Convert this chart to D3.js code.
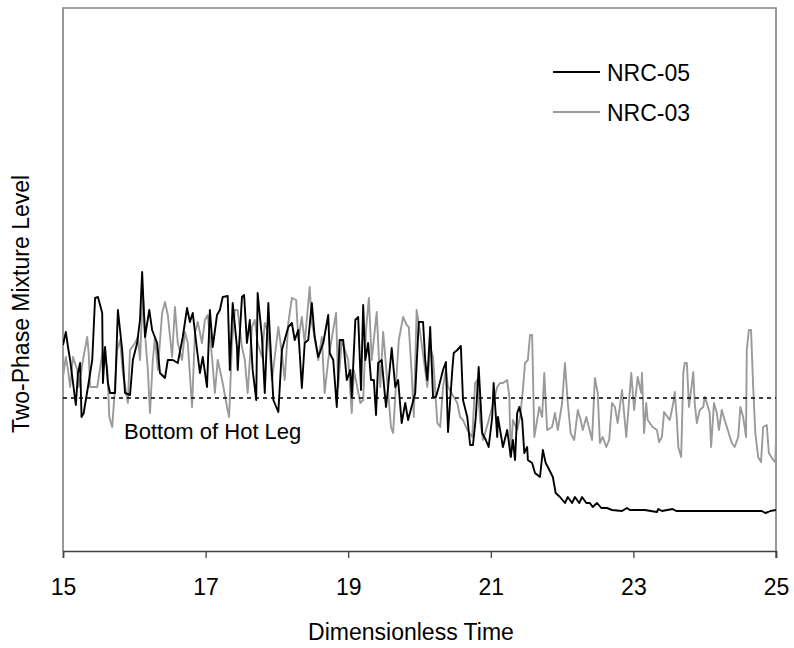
<!DOCTYPE html>
<html>
<head>
<meta charset="utf-8">
<script src="https://cdn.jsdelivr.net/npm/d3@7"></script>
<style>
  html, body { margin: 0; padding: 0; background: #fff; }
  svg { display: block; }
  text { font-family: "Liberation Sans", Arial, sans-serif; fill: #000; }
</style>
</head>
<body>
<svg id="chart" width="794" height="648"></svg>
<script>
// ---------------- data ----------------
const seriesNames = ["NRC-05", "NRC-03"];
const xTickValues = [15, 17, 19, 21, 23, 25];
const hotLegLevel = 30.6;
const hotLegLabel = "Bottom of Hot Leg";

const timeNRC05 = [15.00,15.04,15.07,15.10,15.18,15.21,15.24,15.26,15.29,15.35,15.41,15.45,15.49,15.55,15.56,15.59,15.63,15.66,15.73,15.77,
15.83,15.87,15.94,15.98,16.04,16.08,16.11,16.15,16.21,16.25,16.32,16.36,16.43,16.47,16.54,16.61,16.68,16.74,16.78,16.82,
16.88,16.92,16.96,17.02,17.06,17.10,17.16,17.20,17.24,17.31,17.34,17.38,17.44,17.45,17.51,17.54,17.58,17.62,17.66,17.71,
17.73,17.79,17.83,17.88,17.90,17.95,18.02,18.07,18.16,18.21,18.25,18.30,18.35,18.39,18.44,18.49,18.53,18.58,18.65,18.72,
18.74,18.79,18.84,18.88,18.93,18.98,19.03,19.05,19.10,19.14,19.18,19.21,19.24,19.28,19.32,19.36,19.39,19.42,19.47,19.53,
19.56,19.61,19.66,19.70,19.75,19.80,19.84,19.94,19.99,20.05,20.08,20.11,20.15,20.19,20.23,20.27,20.33,20.37,20.40,20.46,
20.48,20.53,20.58,20.61,20.67,20.71,20.75,20.79,20.83,20.88,20.93,20.97,21.02,21.04,21.09,21.10,21.17,21.23,21.28,21.31,
21.34,21.37,21.40,21.44,21.47,21.51,21.52,21.58,21.62,21.69,21.73,21.77,21.80,21.87,21.91,21.97,22.04,22.08,22.14,22.18,
22.24,22.28,22.34,22.39,22.43,22.49,22.55,22.63,22.70,22.84,22.91,22.95,23.16,23.33,23.35,23.40,23.55,23.60,24.80,24.85,
24.89,24.92,25.00];
const levelNRC05 = [41.2,43.8,40.8,38.2,29.2,35.6,37.6,26.8,27.6,32.8,38.2,50.6,50.8,47.6,33.6,40.8,33.6,31.6,31.6,48.2,
40.2,31.6,31.2,38.2,41.6,46.2,55.8,42.8,48.2,44.2,41.6,35.6,34.6,38.2,38.2,37.6,42.8,48.6,45.8,47.6,
40.2,35.6,38.8,32.8,48.2,40.8,47.2,48.2,50.8,51.0,36.2,49.6,40.8,36.2,50.8,51.2,41.6,46.2,36.2,30.2,
51.6,42.8,31.6,49.6,43.6,30.2,27.8,40.2,44.8,45.6,42.2,44.2,32.6,41.6,42.2,49.6,42.8,38.8,41.6,47.2,
39.6,38.2,28.8,42.2,42.2,34.2,36.2,30.8,46.2,46.8,32.2,49.2,38.2,41.6,34.2,34.2,27.2,37.6,38.2,28.8,
32.8,40.6,32.8,34.2,25.6,29.6,26.2,31.6,45.8,45.8,38.2,34.2,44.8,30.8,30.8,32.8,36.2,37.8,23.8,36.2,
39.6,40.2,41.0,30.2,26.8,21.2,21.2,26.8,36.8,23.6,22.2,20.8,26.8,33.6,22.8,26.8,20.8,24.2,18.8,22.2,
18.2,27.6,28.8,26.2,19.6,20.8,18.2,17.6,15.6,14.8,20.2,17.6,16.8,14.8,11.6,10.8,9.6,10.8,9.6,10.8,
9.6,10.8,9.6,9.6,8.8,9.6,8.6,8.6,8.2,8.0,8.6,8.2,8.2,7.8,8.4,8.0,8.4,8.0,8.0,7.6,
7.8,8.0,8.2];

const timeNRC03 = [15.00,15.04,15.07,15.10,15.14,15.20,15.22,15.28,15.34,15.36,15.38,15.48,15.56,15.62,15.65,15.69,15.72,15.76,15.80,15.84,
15.91,15.94,16.01,16.05,16.08,16.12,16.16,16.19,16.22,16.26,16.29,16.33,16.39,16.43,16.47,16.53,16.57,16.61,16.67,16.71,
16.75,16.81,16.85,16.89,16.95,16.99,17.03,17.09,17.13,17.17,17.24,17.30,17.33,17.37,17.41,17.45,17.51,17.55,17.59,17.65,
17.69,17.73,17.79,17.83,17.88,17.93,17.97,18.02,18.07,18.11,18.16,18.21,18.27,18.30,18.35,18.39,18.46,18.49,18.53,18.58,
18.63,18.67,18.72,18.77,18.83,18.86,18.91,19.00,19.05,19.08,19.17,19.21,19.25,19.29,19.33,19.40,19.45,19.49,19.52,19.56,
19.60,19.63,19.68,19.71,19.77,19.82,19.85,19.89,19.92,19.96,20.01,20.11,20.15,20.19,20.25,20.29,20.33,20.37,20.40,20.53,
20.57,20.61,20.67,20.74,20.78,20.81,20.85,20.89,20.92,20.96,21.02,21.09,21.13,21.17,21.23,21.26,21.28,21.31,21.37,21.41,
21.45,21.48,21.52,21.55,21.58,21.61,21.65,21.68,21.72,21.75,21.79,21.86,21.90,21.94,22.00,22.04,22.08,22.12,22.17,22.22,
22.26,22.29,22.34,22.42,22.46,22.50,22.53,22.57,22.62,22.66,22.70,22.74,22.78,22.84,22.90,22.97,23.01,23.06,23.11,23.12,
23.15,23.18,23.20,23.27,23.33,23.36,23.40,23.43,23.51,23.56,23.58,23.61,23.63,23.67,23.70,23.72,23.75,23.78,23.84,23.86,
23.89,23.93,23.98,24.00,24.03,24.07,24.09,24.13,24.17,24.20,24.24,24.28,24.38,24.42,24.47,24.50,24.54,24.58,24.59,24.62,
24.65,24.68,24.71,24.75,24.79,24.82,24.87,24.90,24.96,24.99,25.00];
const levelNRC03 = [34.8,38.8,36.2,32.8,38.8,36.2,32.8,38.2,42.8,39.6,32.8,32.8,40.2,36.8,26.8,24.8,30.8,40.2,42.2,35.6,
29.6,40.2,41.6,42.8,38.2,51.6,41.6,36.2,27.6,38.2,42.8,36.2,47.6,49.8,47.2,38.8,48.8,41.6,38.2,43.8,
41.6,28.8,43.6,45.8,41.6,46.2,47.2,38.8,31.6,38.2,33.6,28.8,26.8,41.6,48.2,48.2,40.8,38.2,31.6,44.8,
46.2,41.6,38.8,45.6,43.6,34.2,38.8,44.8,39.6,34.2,45.6,50.6,50.2,42.2,46.8,41.6,52.8,45.6,42.8,38.2,
42.8,31.6,38.2,42.6,47.6,32.8,42.2,38.2,27.6,36.2,29.6,30.2,44.2,50.6,38.2,47.8,32.8,43.8,38.8,31.8,
24.8,23.6,35.6,42.2,46.8,45.2,44.8,35.6,26.8,48.2,43.6,32.8,40.8,38.8,25.6,24.8,32.8,36.2,32.8,29.6,
26.8,26.2,24.2,22.8,33.6,34.2,26.2,22.2,23.6,25.6,28.8,32.8,33.6,33.6,34.2,30.8,18.8,26.2,24.2,26.8,
32.2,37.6,38.2,43.2,43.2,22.8,26.2,28.8,26.8,35.6,24.2,24.8,27.6,24.2,29.6,37.6,29.6,23.6,22.2,28.2,
26.2,24.2,26.8,22.2,34.6,31.6,21.6,22.8,20.8,22.2,29.6,28.8,25.6,32.2,22.8,35.6,28.2,34.8,31.6,35.6,
23.6,29.6,26.2,24.8,24.2,21.8,22.8,27.8,26.2,29.6,31.8,26.2,20.8,18.8,35.6,37.6,37.6,28.8,35.8,29.6,
25.6,28.2,28.8,30.8,29.6,27.6,20.8,29.6,27.6,24.2,28.2,26.2,21.6,20.8,22.8,28.8,26.8,22.8,40.2,44.2,
44.2,32.8,23.6,18.8,17.8,24.8,25.2,19.6,18.2,17.8,22.2];

// ---------------- layout ----------------
const svg = d3.select("#chart");
const plot = { left: 63, top: 8, right: 776, bottom: 551 };

const x = d3.scaleLinear().domain([15, 25]).range([plot.left, plot.right]);
const y = d3.scaleLinear().domain([0, 108.6]).range([plot.bottom, plot.top]);

svg.append("defs").append("clipPath").attr("id", "clip")
  .append("rect")
  .attr("x", plot.left).attr("y", plot.top)
  .attr("width", plot.right - plot.left).attr("height", plot.bottom - plot.top);

// frame (left, top, right) in grey
svg.append("path")
  .attr("d", `M${plot.left},${plot.bottom}V${plot.top}H${plot.right}V${plot.bottom + 7}`)
  .attr("fill", "none").attr("stroke", "#808080").attr("stroke-width", 1.6);

// data lines
const line = d3.line().x(d => x(d[0])).y(d => y(d[1]));
const dataNRC03 = timeNRC03.map((t, i) => [t, levelNRC03[i]]);
const dataNRC05 = timeNRC05.map((t, i) => [t, levelNRC05[i]]);

const g = svg.append("g").attr("clip-path", "url(#clip)");

g.append("path").datum(dataNRC03)
  .attr("d", line).attr("fill", "none")
  .attr("stroke", "#9a9a9a").attr("stroke-width", 1.9).attr("stroke-linejoin", "round");

g.append("path").datum(dataNRC05)
  .attr("d", line).attr("fill", "none")
  .attr("stroke", "#000").attr("stroke-width", 1.9).attr("stroke-linejoin", "round");

// hot leg line
svg.append("line")
  .attr("x1", x(15)).attr("x2", x(25))
  .attr("y1", y(hotLegLevel)).attr("y2", y(hotLegLevel))
  .attr("stroke", "#000").attr("stroke-width", 1.5).attr("stroke-dasharray", "4,4");

svg.append("text")
  .attr("x", 124).attr("y", 439)
  .attr("font-size", 22)
  .text(hotLegLabel);

// x axis
const xAxis = d3.axisBottom(x).tickValues(xTickValues).tickSize(7).tickPadding(21).tickFormat(d3.format("d"));
const ax = svg.append("g").attr("transform", `translate(0,${plot.bottom})`).call(xAxis);
ax.select(".domain").attr("stroke", "#404040").attr("stroke-width", 1.6);
ax.selectAll(".tick line").attr("stroke", "#404040").attr("stroke-width", 1.3);
ax.selectAll(".tick text")
  .attr("font-size", 23)
  .attr("font-family", "'Liberation Sans', Arial, sans-serif")
  .attr("fill", "#000");

// axis titles
svg.append("text")
  .attr("x", 411).attr("y", 640)
  .attr("text-anchor", "middle").attr("font-size", 23)
  .text("Dimensionless Time");

svg.append("text")
  .attr("transform", `translate(29,304) rotate(-90)`)
  .attr("text-anchor", "middle").attr("font-size", 23)
  .text("Two-Phase Mixture Level");

// legend
const legend = svg.append("g");
const legendColors = ["#000", "#9a9a9a"];
seriesNames.forEach((name, i) => {
  const ly = 72 + i * 40;
  legend.append("line")
    .attr("x1", 553).attr("x2", 600).attr("y1", ly).attr("y2", ly)
    .attr("stroke", legendColors[i]).attr("stroke-width", 1.8);
  legend.append("text")
    .attr("x", 607).attr("y", ly + 8.5)
    .attr("font-size", 23)
    .text(name);
});
</script>
</body>
</html>
